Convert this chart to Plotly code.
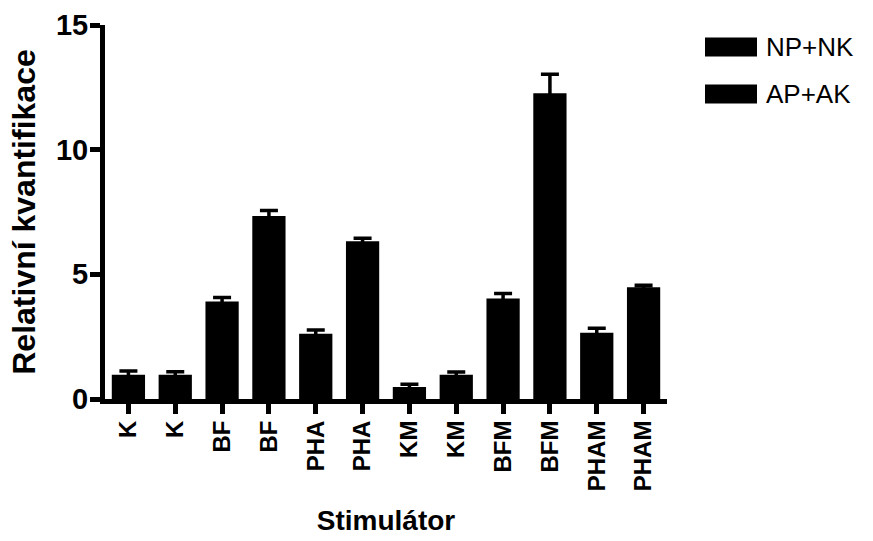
import plotly.graph_objects as go

categories = ["K", "BF", "PHA", "KM", "BFM", "PHAM"]
series_names = ["NP+NK", "AP+AK"]
np_nk = [0.97, 3.91, 2.62, 0.48, 4.03, 2.66]
ap_ak = [0.97, 7.34, 6.33, 0.97, 12.26, 4.48]
np_nk_err = [0.15, 0.16, 0.15, 0.11, 0.20, 0.18]
ap_ak_err = [0.12, 0.22, 0.12, 0.11, 0.76, 0.08]
y_ticks = [0, 5, 10, 15]

FONT = "Liberation Sans, Arial, sans-serif"
BLACK = "#000000"

x_np = [2 * i for i in range(len(categories))]
x_ap = [2 * i + 1 for i in range(len(categories))]
tick_vals = list(range(2 * len(categories)))
tick_text = [c for c in categories for _ in range(2)]

fig = go.Figure()
for name, xs, ys, es in [(series_names[0], x_np, np_nk, np_nk_err),
                         (series_names[1], x_ap, ap_ak, ap_ak_err)]:
    fig.add_trace(go.Bar(
        x=xs, y=ys, name=name, width=0.71,
        marker=dict(color=BLACK, line=dict(width=0)),
        error_y=dict(type="data", array=es, visible=True, color=BLACK,
                     thickness=3.5, width=9),
        showlegend=False,
    ))

L, R, T, B = 105, 206, 25, 142
W, H = 873, 541

fig.update_layout(
    width=W, height=H,
    margin=dict(l=L, r=R, t=T, b=B),
    paper_bgcolor="white", plot_bgcolor="white",
    barmode="overlay",
    font=dict(family=FONT, color=BLACK),
    xaxis=dict(
        range=[-0.5, 11.5], tickvals=tick_vals, ticktext=tick_text, automargin=False,
        tickangle=-90, ticks="outside", ticklen=10, tickwidth=5, tickcolor=BLACK,
        showline=True, linewidth=5, linecolor=BLACK, showgrid=False, zeroline=False,
        ticklabelstandoff=-3,
        tickfont=dict(family=FONT, size=24, color=BLACK, weight="bold"),
        title=dict(text="Stimulátor", font=dict(family=FONT, size=28, color=BLACK, weight="bold"),
                   standoff=22),
    ),
    yaxis=dict(
        range=[0, 15], tickvals=y_ticks, ticks="outside", ticklen=10, tickwidth=5,
        tickcolor=BLACK, showline=True, linewidth=5, linecolor=BLACK, automargin=False,
        showgrid=False, zeroline=False,
        ticklabelstandoff=-4,
        tickfont=dict(family=FONT, size=29, color=BLACK, weight="bold"),
        title=dict(text="Relativní kvantifikace", font=dict(family=FONT, size=32, color=BLACK, weight="bold"),
                   standoff=12),
    ),
)


def px_to_paper_x(px):
    return (px - L) / (W - L - R)


def px_to_paper_y(py):
    return (H - B - py) / (H - T - B)


# legend drawn as boxes + labels in paper space
legend_y_px = [47, 94]
for name, ypx in zip(series_names, legend_y_px):
    fig.add_shape(type="rect", xref="paper", yref="paper",
                  x0=px_to_paper_x(705), x1=px_to_paper_x(757),
                  y0=px_to_paper_y(ypx + 9.5), y1=px_to_paper_y(ypx - 9.5),
                  fillcolor=BLACK, line=dict(width=0))
    fig.add_annotation(xref="paper", yref="paper", x=px_to_paper_x(764), y=px_to_paper_y(ypx),
                       text=name, showarrow=False, xanchor="left", yanchor="middle",
                       font=dict(family=FONT, size=26, color=BLACK))

fig.write_html("out.html")
